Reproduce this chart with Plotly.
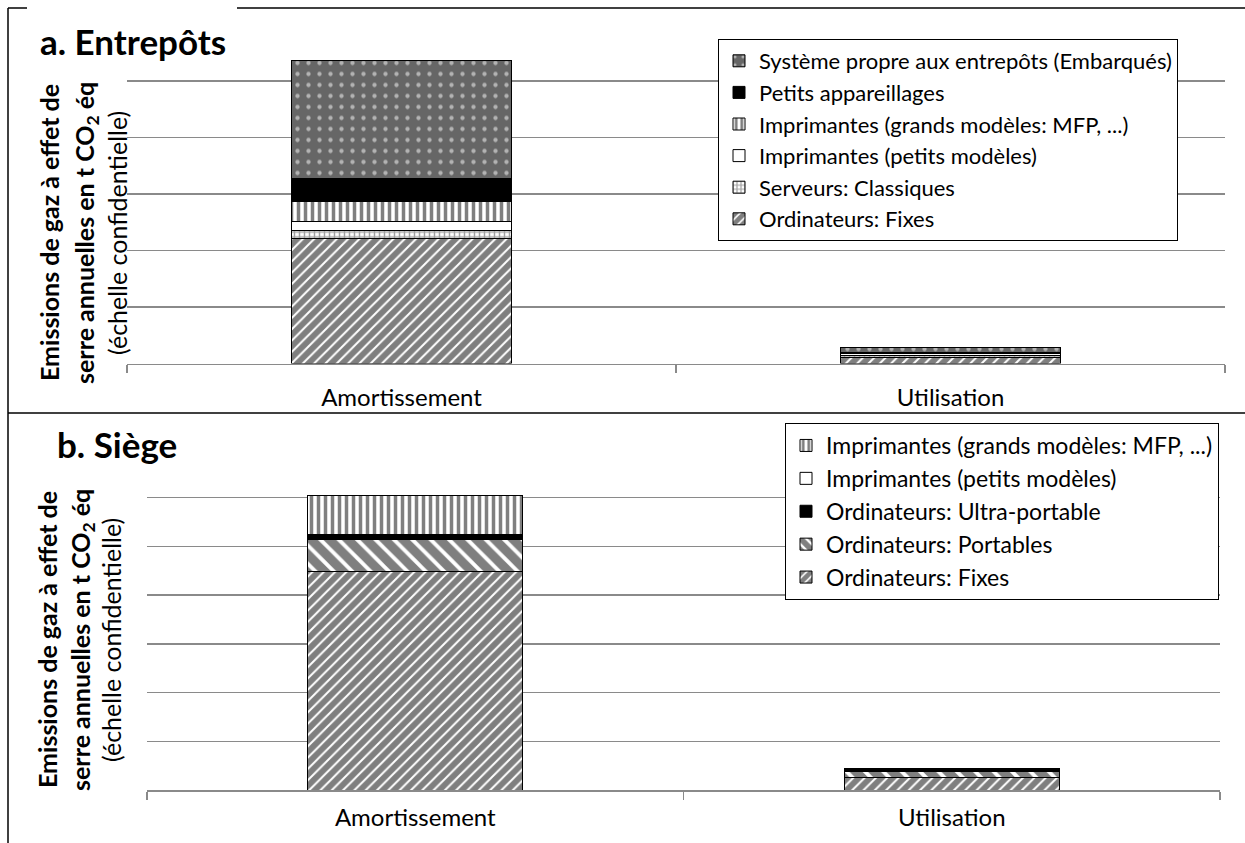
import plotly.graph_objects as go

W, H = 1245, 843
FONT = "Lato"

categories = ["Amortissement", "Utilisation"]

# Panel a. Entrepôts (confidential scale in grid units)
a_names = ["Ordinateurs: Fixes", "Serveurs: Classiques", "Imprimantes (petits modèles)",
           "Imprimantes (grands modèles: MFP, ...)", "Petits appareillages",
           "Système propre aux entrepôts (Embarqués)"]
a_fixes = [2.21, 0.115]
a_serveurs = [0.15, 0.02]
a_impr_petits = [0.16, 0.04]
a_impr_grands = [0.34, 0.01]
a_petits_app = [0.42, 0.015]
a_systeme = [2.09, 0.09]

# Panel b. Siège
b_names = ["Ordinateurs: Fixes", "Ordinateurs: Portables", "Ordinateurs: Ultra-portable",
           "Imprimantes (petits modèles)", "Imprimantes (grands modèles: MFP, ...)"]
b_fixes = [4.48, 0.25]
b_portables = [0.665, 0.13]
b_ultra = [0.08, 0.02]
b_impr_petits = [0.01, 0.03]
b_impr_grands = [0.81, 0.015]

def px(x):
    return x / W

def py(y):
    return 1 - y / H

STYLES = {
    "Ordinateurs: Fixes": dict(color="white", pattern=dict(shape="/", fgcolor="black", bgcolor="white", size=8, solidity=0.75)),
    "Serveurs: Classiques": dict(color="white", pattern=dict(shape="+", fgcolor="#444444", bgcolor="white", size=5, solidity=0.5)),
    "Imprimantes (petits modèles)": dict(color="white"),
    "Imprimantes (grands modèles: MFP, ...)": dict(color="white", pattern=dict(shape="|", fgcolor="black", bgcolor="white", size=7, solidity=0.5)),
    "Petits appareillages": dict(color="black"),
    "Système propre aux entrepôts (Embarqués)": dict(color="#666666", pattern=dict(shape=".", fgcolor="white", bgcolor="#666666", size=11, solidity=0.12)),
    "Ordinateurs: Portables": dict(color="white", pattern=dict(shape="\\", fgcolor="black", bgcolor="white", size=13, solidity=0.7)),
    "Ordinateurs: Ultra-portable": dict(color="black"),
}

fig = go.Figure()

a_values = [a_fixes, a_serveurs, a_impr_petits, a_impr_grands, a_petits_app, a_systeme]
for i, (name, vals) in enumerate(zip(a_names, a_values)):
    st = STYLES[name]
    fig.add_trace(go.Bar(
        x=categories, y=vals, name=name, xaxis="x", yaxis="y", legend="legend",
        legendgroup=f"a{i}", legendrank=100 - i,
        marker=dict(color=st["color"], pattern=st.get("pattern", dict(shape="")),
                    line=dict(color="black", width=1)),
        hoverinfo="skip"))

b_values = [b_fixes, b_portables, b_ultra, b_impr_petits, b_impr_grands]
for i, (name, vals) in enumerate(zip(b_names, b_values)):
    st = STYLES[name]
    fig.add_trace(go.Bar(
        x=categories, y=vals, name=name, xaxis="x2", yaxis="y2", legend="legend2",
        legendgroup=f"b{i}", legendrank=100 - i,
        marker=dict(color=st["color"], pattern=st.get("pattern", dict(shape="")),
                    line=dict(color="black", width=1)),
        hoverinfo="skip"))

GRID = "#8a8a8a"
xcommon = dict(showline=True, linecolor=GRID, linewidth=1.5, ticks="outside", tickson="boundaries",
               ticklen=8, tickcolor=GRID, tickwidth=1.5, showgrid=False,
               tickfont=dict(family=FONT, size=24, color="black"), fixedrange=True)
ycommon = dict(showticklabels=False, showline=False, ticks="", zeroline=False, showgrid=True,
               gridcolor=GRID, gridwidth=1.5, dtick=1, fixedrange=True)

fig.update_layout(
    width=W, height=H, margin=dict(l=0, r=0, t=0, b=0),
    paper_bgcolor="white", plot_bgcolor="white",
    barmode="stack", bargap=0.6, showlegend=True,
    xaxis=dict(domain=[px(127), px(1225)], anchor="y", ticklabelstandoff=12, **xcommon),
    yaxis=dict(domain=[py(363.5), py(24.5)], anchor="x", range=[0, 6.0005], **ycommon),
    xaxis2=dict(domain=[px(147), px(1220)], anchor="y2", ticklabelstandoff=6, **xcommon),
    yaxis2=dict(domain=[py(790), py(448.9)], anchor="x2", range=[0, 7.0005], **ycommon),
    legend=dict(x=px(718), y=py(39), xanchor="left", yanchor="top", bordercolor="black",
                borderwidth=1, bgcolor="white", font=dict(family=FONT, size=22, color="black"),
                traceorder="grouped", tracegroupgap=0),
    legend2=dict(x=px(785), y=py(600), xanchor="left", yanchor="bottom", bordercolor="black",
                 borderwidth=1, bgcolor="white", font=dict(family=FONT, size=23, color="black"),
                 traceorder="grouped", tracegroupgap=0),
    font=dict(family=FONT, color="black"),
)

shapes = []
line = dict(color="black", width=1.5)
# panel borders
shapes.append(dict(type="line", xref="paper", yref="paper", x0=px(8), x1=1, y0=py(8), y1=py(8), line=line))
shapes.append(dict(type="line", xref="paper", yref="paper", x0=px(8), x1=px(8), y0=py(8), y1=0, line=line))
shapes.append(dict(type="line", xref="paper", yref="paper", x0=px(8), x1=1, y0=py(413), y1=py(413), line=line))
# white boxes behind panel titles
shapes.append(dict(type="rect", xref="paper", yref="paper", x0=px(27), x1=px(237), y0=py(62), y1=py(2),
                   fillcolor="white", line=dict(width=0), layer="above"))
shapes.append(dict(type="rect", xref="paper", yref="paper", x0=px(20), x1=px(183), y0=py(470), y1=py(422),
                   fillcolor="white", line=dict(width=0), layer="above"))
fig.update_layout(shapes=shapes)

ann = []
ann.append(dict(text="<b>a. Entrepôts</b>", x=px(38), y=py(41), xref="paper", yref="paper",
                xanchor="left", yanchor="middle", showarrow=False, font=dict(family=FONT, size=35, color="black")))
ann.append(dict(text="<b>b. Siège</b>", x=px(55), y=py(444), xref="paper", yref="paper",
                xanchor="left", yanchor="middle", showarrow=False, font=dict(family=FONT, size=35, color="black")))

ytitle = [("<b>Emissions de gaz à effet de</b>", 0), ("<b>serre annuelles en t CO<sub>2</sub> éq</b>", 1),
          ("(échelle confidentielle)", 2)]
for (xs, yc) in [((49, 86, 117), 233), ((47, 82, 111), 640)]:
    for (txt, k) in ytitle:
        ann.append(dict(text=txt, x=px(xs[k]), y=py(yc), xref="paper", yref="paper", textangle=-90,
                        xanchor="center", yanchor="middle", showarrow=False,
                        font=dict(family=FONT, size=25, color="black")))
fig.update_layout(annotations=ann)

fig.write_html("out.html", config={"displayModeBar": False, "staticPlot": True},
               post_script="document.body.style.margin='0';document.body.style.overflow='hidden';")
